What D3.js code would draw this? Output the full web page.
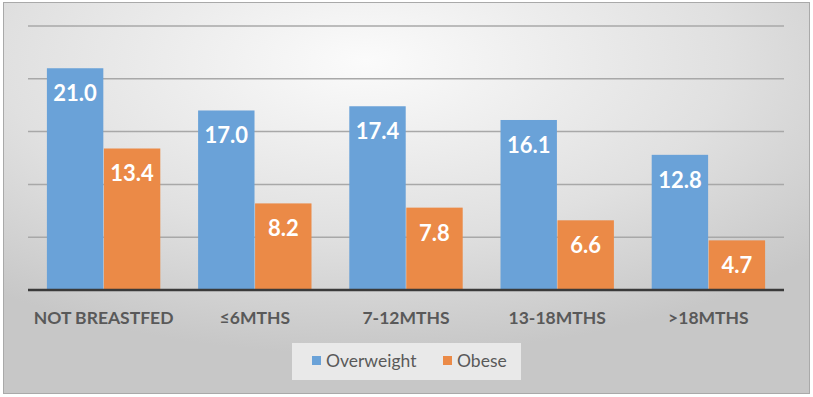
<!DOCTYPE html>
<html><head><meta charset="utf-8">
<script src="https://cdn.jsdelivr.net/npm/d3@7"></script>
<style>html,body{margin:0;padding:0;background:#fff;}svg{display:block;}</style>
</head><body>
<script>
const categories = ["NOT BREASTFED", "\u22646MTHS", "7-12MTHS", "13-18MTHS", ">18MTHS"];
const seriesNames = ["Overweight", "Obese"];
const overweight = [21.0, 17.0, 17.4, 16.1, 12.8];
const obese = [13.4, 8.2, 7.8, 6.6, 4.7];
const yTicks = [0, 5, 10, 15, 20, 25];
const colors = ["#6aa2d8", "#eb8a47"];

const W = 813, H = 397;
const svg = d3.select("body").append("svg").attr("width", W).attr("height", H);
const defs = svg.append("defs");
const grad = defs.append("radialGradient").attr("id", "bg")
  .attr("cx", "45%").attr("cy", "15%").attr("r", "75%");
grad.append("stop").attr("offset", "0%").attr("stop-color", "#fbfbfb");
grad.append("stop").attr("offset", "60%").attr("stop-color", "#e0e0e0");
grad.append("stop").attr("offset", "100%").attr("stop-color", "#c7c7c7");

svg.append("rect").attr("x", 3.5).attr("y", 2.5).attr("width", 806).attr("height", 391)
  .attr("fill", "url(#bg)").attr("stroke", "#a9a9a9").attr("stroke-width", 1);

const plot = {left: 28, right: 784, top: 26, bottom: 290};
const y = d3.scaleLinear().domain([0, 25]).range([plot.bottom, plot.top]);
const x0 = d3.scaleBand().domain(categories).range([plot.left, plot.right]).padding(0);
const x1 = d3.scaleBand().domain(seriesNames)
  .range([x0.bandwidth() * 0.125, x0.bandwidth() * 0.875]).paddingInner(0.01);

// gridlines
svg.append("g").selectAll("line").data(yTicks.filter(d => d > 0)).join("line")
  .attr("x1", plot.left).attr("x2", plot.right)
  .attr("y1", d => y(d)).attr("y2", d => y(d))
  .attr("stroke", "#a8a8a8").attr("stroke-width", 1.5);

const data = categories.map((c, i) => ({cat: c, vals: [overweight[i], obese[i]]}));
const groups = svg.append("g").selectAll("g").data(data).join("g")
  .attr("transform", d => `translate(${x0(d.cat)},0)`);

groups.selectAll("rect").data(d => d.vals.map((v, j) => ({name: seriesNames[j], v, j}))).join("rect")
  .attr("x", d => x1(d.name)).attr("width", x1.bandwidth())
  .attr("y", d => y(d.v)).attr("height", d => y(0) - y(d.v))
  .attr("fill", d => colors[d.j]);

groups.selectAll("text").data(d => d.vals.map((v, j) => ({name: seriesNames[j], v, j}))).join("text")
  .attr("x", d => x1(d.name) + x1.bandwidth() / 2)
  .attr("y", d => y(d.v) + 33)
  .attr("text-anchor", "middle")
  .attr("font-family", "Lato, 'Open Sans', sans-serif")
  .attr("font-weight", "bold").attr("font-size", 22)
  .attr("fill", "#ffffff")
  .text(d => d.v.toFixed(1));

// baseline
svg.append("line").attr("x1", plot.left).attr("x2", plot.right)
  .attr("y1", y(0)).attr("y2", y(0)).attr("stroke", "#3a3a3a").attr("stroke-width", 2.5);

// x axis labels
const xAxis = d3.axisBottom(x0).tickSize(0).tickPadding(0);
const xg = svg.append("g").attr("transform", `translate(0,${y(0)})`).call(xAxis);
xg.select(".domain").remove();
xg.selectAll("text")
  .attr("y", 34).attr("dy", 0)
  .attr("font-family", "Lato, 'Open Sans', sans-serif")
  .attr("font-weight", "bold").attr("font-size", 17.5)
  .attr("fill", "#595959");

// legend
const lg = svg.append("g");
lg.append("rect").attr("x", 292).attr("y", 343).attr("width", 229).attr("height", 37)
  .attr("fill", "#efefef").attr("opacity", 0.85);
const items = [{name: seriesNames[0], x: 312, c: colors[0]}, {name: seriesNames[1], x: 443, c: colors[1]}];
items.forEach(it => {
  lg.append("rect").attr("x", it.x).attr("y", 356).attr("width", 9).attr("height", 9).attr("fill", it.c);
  lg.append("text").attr("x", it.x + 14).attr("y", 367)
    .attr("font-family", "Lato, 'Open Sans', sans-serif").attr("font-size", 17.5)
    .attr("fill", "#595959").text(it.name);
});
</script>
</body></html>
